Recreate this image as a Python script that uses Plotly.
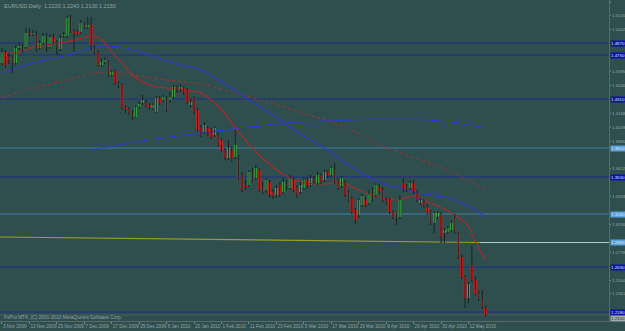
import plotly.graph_objects as go

# ---------------- data (EURUSD, Daily) ----------------
bar_idx = list(range(142))

opens = [1.4670, 1.4780, 1.4740, 1.4720, 1.4670, 1.4820, 1.4830, 1.4830, 1.4970, 1.4960,
         1.4960, 1.4820, 1.4870, 1.4940, 1.4830, 1.4930, 1.4880, 1.4810, 1.4940, 1.4940,
         1.5130, 1.4990, 1.4980, 1.4980, 1.5060, 1.5030, 1.5050, 1.4830, 1.4780, 1.4650,
         1.4680, 1.4680, 1.4550, 1.4590, 1.4470, 1.4450, 1.4230, 1.4210, 1.4170, 1.4130,
         1.4230, 1.4270, 1.4270, 1.4250, 1.4220, 1.4180, 1.4320, 1.4300, 1.4320, 1.4300,
         1.4330, 1.4430, 1.4400, 1.4420, 1.4400, 1.4250, 1.4320, 1.4200, 1.4020, 1.3980,
         1.4020, 1.4000, 1.3950, 1.3950, 1.3900, 1.3800, 1.3720, 1.3800, 1.3730, 1.3700,
         1.3550, 1.3450, 1.3450, 1.3580, 1.3520, 1.3600, 1.3450, 1.3400, 1.3480, 1.3380,
         1.3350, 1.3450, 1.3380, 1.3460, 1.3420, 1.3500, 1.3420, 1.3380, 1.3420, 1.3500,
         1.3450, 1.3510, 1.3470, 1.3540, 1.3500, 1.3580, 1.3550, 1.3600, 1.3500, 1.3440,
         1.3470, 1.3380, 1.3320, 1.3200, 1.3150, 1.3250, 1.3300, 1.3270, 1.3400, 1.3350,
         1.3430, 1.3400, 1.3300, 1.3300, 1.3180, 1.3150, 1.3130, 1.3470, 1.3430, 1.3420,
         1.3470, 1.3380, 1.3270, 1.3280, 1.3230, 1.3180, 1.3070, 1.3130, 1.3150, 1.2970,
         1.2980, 1.3000, 1.3130, 1.2960, 1.2730, 1.2530, 1.2320, 1.2640, 1.2500, 1.2360,
         1.2310, 1.2220]
highs = [1.4820, 1.4800, 1.4770, 1.4750, 1.4850, 1.4880, 1.4860, 1.5020, 1.5020, 1.5000,
         1.4990, 1.4900, 1.4970, 1.4970, 1.4960, 1.4960, 1.4900, 1.4950, 1.4980, 1.5140,
         1.5150, 1.5010, 1.5000, 1.5100, 1.5080, 1.5130, 1.5130, 1.4850, 1.4800, 1.4720,
         1.4730, 1.4700, 1.4600, 1.4610, 1.4490, 1.4470, 1.4250, 1.4230, 1.4200, 1.4250,
         1.4290, 1.4350, 1.4300, 1.4270, 1.4270, 1.4340, 1.4340, 1.4350, 1.4340, 1.4380,
         1.4450, 1.4450, 1.4460, 1.4440, 1.4420, 1.4310, 1.4340, 1.4220, 1.4050, 1.4080,
         1.4040, 1.4020, 1.4040, 1.3980, 1.3920, 1.3820, 1.3900, 1.3840, 1.4000, 1.3750,
         1.3580, 1.3500, 1.3600, 1.3620, 1.3650, 1.3620, 1.3480, 1.3520, 1.3500, 1.3410,
         1.3450, 1.3480, 1.3520, 1.3500, 1.3550, 1.3530, 1.3450, 1.3480, 1.3530, 1.3530,
         1.3550, 1.3540, 1.3580, 1.3570, 1.3610, 1.3600, 1.3640, 1.3670, 1.3520, 1.3540,
         1.3500, 1.3400, 1.3340, 1.3220, 1.3320, 1.3360, 1.3330, 1.3400, 1.3430, 1.3470,
         1.3460, 1.3430, 1.3330, 1.3320, 1.3200, 1.3170, 1.3350, 1.3520, 1.3460, 1.3500,
         1.3500, 1.3400, 1.3320, 1.3310, 1.3260, 1.3200, 1.3190, 1.3190, 1.3180, 1.3020,
         1.3040, 1.3100, 1.3160, 1.2980, 1.2750, 1.2550, 1.2480, 1.2840, 1.2540, 1.2400,
         1.2400, 1.2240]
lows = [1.4640, 1.4620, 1.4660, 1.4570, 1.4650, 1.4800, 1.4770, 1.4810, 1.4930, 1.4940,
        1.4780, 1.4800, 1.4850, 1.4780, 1.4810, 1.4860, 1.4750, 1.4790, 1.4920, 1.4920,
        1.4970, 1.4780, 1.4940, 1.4960, 1.5010, 1.5010, 1.4800, 1.4760, 1.4630, 1.4630,
        1.4660, 1.4530, 1.4530, 1.4450, 1.4420, 1.4200, 1.4170, 1.4150, 1.4100, 1.4120,
        1.4210, 1.4250, 1.4220, 1.4200, 1.4200, 1.4170, 1.4250, 1.4280, 1.4180, 1.4270,
        1.4310, 1.4370, 1.4380, 1.4350, 1.4260, 1.4230, 1.4160, 1.3980, 1.3930, 1.3960,
        1.3940, 1.3910, 1.3930, 1.3830, 1.3780, 1.3700, 1.3700, 1.3680, 1.3710, 1.3500,
        1.3380, 1.3400, 1.3430, 1.3480, 1.3500, 1.3380, 1.3360, 1.3370, 1.3320, 1.3310,
        1.3320, 1.3330, 1.3360, 1.3400, 1.3400, 1.3380, 1.3320, 1.3360, 1.3400, 1.3410,
        1.3430, 1.3460, 1.3450, 1.3460, 1.3480, 1.3520, 1.3530, 1.3460, 1.3400, 1.3420,
        1.3330, 1.3280, 1.3160, 1.3060, 1.3120, 1.3230, 1.3230, 1.3250, 1.3280, 1.3330,
        1.3360, 1.3280, 1.3250, 1.3160, 1.3110, 1.3050, 1.3110, 1.3380, 1.3380, 1.3400,
        1.3360, 1.3280, 1.3250, 1.3220, 1.3150, 1.3050, 1.2970, 1.3110, 1.2870, 1.2870,
        1.2960, 1.2980, 1.2960, 1.2710, 1.2510, 1.2220, 1.2270, 1.2480, 1.2340, 1.2290,
        1.2210, 1.2130]
closes = [1.4780, 1.4650, 1.4700, 1.4670, 1.4820, 1.4840, 1.4800, 1.4970, 1.4960, 1.4970,
          1.4810, 1.4870, 1.4940, 1.4830, 1.4930, 1.4880, 1.4830, 1.4920, 1.4950, 1.5120,
          1.4990, 1.4960, 1.4960, 1.5070, 1.5030, 1.5050, 1.4850, 1.4780, 1.4650, 1.4680,
          1.4700, 1.4550, 1.4580, 1.4470, 1.4440, 1.4230, 1.4210, 1.4170, 1.4130, 1.4230,
          1.4260, 1.4300, 1.4240, 1.4230, 1.4250, 1.4320, 1.4270, 1.4330, 1.4200, 1.4330,
          1.4430, 1.4400, 1.4430, 1.4380, 1.4280, 1.4280, 1.4180, 1.4000, 1.3950, 1.4050,
          1.3970, 1.3930, 1.4020, 1.3850, 1.3800, 1.3720, 1.3820, 1.3720, 1.3850, 1.3520,
          1.3400, 1.3430, 1.3580, 1.3500, 1.3620, 1.3400, 1.3380, 1.3500, 1.3350, 1.3340,
          1.3420, 1.3350, 1.3480, 1.3440, 1.3520, 1.3400, 1.3350, 1.3450, 1.3500, 1.3440,
          1.3520, 1.3490, 1.3550, 1.3480, 1.3580, 1.3540, 1.3620, 1.3480, 1.3420, 1.3520,
          1.3350, 1.3300, 1.3180, 1.3100, 1.3300, 1.3340, 1.3250, 1.3370, 1.3300, 1.3450,
          1.3390, 1.3300, 1.3280, 1.3180, 1.3130, 1.3120, 1.3300, 1.3400, 1.3400, 1.3470,
          1.3380, 1.3300, 1.3300, 1.3250, 1.3170, 1.3070, 1.3170, 1.3170, 1.2930, 1.3000,
          1.3020, 1.3070, 1.2980, 1.2730, 1.2530, 1.2320, 1.2460, 1.2500, 1.2360, 1.2310,
          1.2230, 1.2150]

# moving averages (bar index, price)
ma_fast_x = [0, 4, 9, 19, 26, 28, 30, 32, 35, 38, 43, 48, 53, 58, 64, 69, 75, 81, 87, 93,
             99, 104, 110, 115, 120, 125, 132, 136, 138, 141]
ma_fast_y = [1.4770, 1.4770, 1.4830, 1.4880, 1.4940, 1.4930, 1.4870, 1.4780, 1.4670, 1.4550,
             1.4450, 1.4420, 1.4400, 1.4370, 1.4200, 1.3980, 1.3750, 1.3580, 1.3480, 1.3460,
             1.3470, 1.3400, 1.3330, 1.3300, 1.3340, 1.3270, 1.3150, 1.3030, 1.2880, 1.2700]
ma_mid_x = [0, 9, 19, 26, 31, 36, 43, 50, 58, 65, 72, 80, 87, 94, 101, 110, 115, 120, 125,
            130, 134, 138, 141]
ma_mid_y = [1.4570, 1.4670, 1.4750, 1.4820, 1.4840, 1.4820, 1.4750, 1.4670, 1.4600, 1.4460,
            1.4300, 1.4130, 1.3960, 1.3820, 1.3650, 1.3480, 1.3430, 1.3380, 1.3350, 1.3320,
            1.3270, 1.3200, 1.3130]
ma_slow_x = [0, 9, 19, 27, 34, 38, 48, 58, 72, 87, 102, 110, 122, 131, 141]
ma_slow_y = [1.4320, 1.4420, 1.4500, 1.4570, 1.4570, 1.4550, 1.4500, 1.4460, 1.4330, 1.4180,
             1.4000, 1.3850, 1.3700, 1.3580, 1.3400]
ma_long_x = [26, 34, 43, 58, 72, 87, 102, 116, 131, 141]
ma_long_y = [1.3800, 1.3850, 1.3900, 1.3970, 1.4030, 1.4080, 1.4100, 1.4110, 1.4080, 1.4020]

# horizontal levels
level_prices = [1.4870, 1.4750, 1.4310, 1.3820, 1.3530, 1.3160, 1.2630, 1.2180]
level_colors = ["#1c2f8f", "#1c2f8f", "#1c2f8f", "#427fa6", "#1c2f8f", "#427fa6",
                "#1c2f8f", "#1c2f8f"]
level_label_bg = ["#0c12b0", "#0c12b0", "#0c12b0", "#5aa2dc", "#0c12b0", "#5aa2dc",
                  "#0c12b0", "#0c12b0"]
trend_label_price = 1.2880
bid_price = 1.2150
trend_x = [-0.6, 139.4]
trend_y = [1.2930, 1.2875]
ray_x = [137.0, 177.0]
ray_y = [1.2875, 1.2875]

# axis ticks (those hidden under level labels are left out)
price_ticks = [1.5280, 1.5141, 1.5002, 1.4585, 1.4446, 1.4168, 1.4029, 1.3890,
               1.3612, 1.3334, 1.3056, 1.2778, 1.2500, 1.2361]
date_ticks = [0, 8, 16, 24, 32, 40, 48, 56, 64, 72, 80, 88, 96, 104, 112, 120, 128, 136]
date_labels = ["3 Nov 2009", "13 Nov 2009", "25 Nov 2009", "7 Dec 2009", "17 Dec 2009",
               "29 Dec 2009", "8 Jan 2010", "20 Jan 2010", "1 Feb 2010", "11 Feb 2010",
               "23 Feb 2010", "5 Mar 2010", "17 Mar 2010", "29 Mar 2010", "8 Apr 2010",
               "20 Apr 2010", "30 Apr 2010", "12 May 2010"]

title_text = "EURUSD,Daily  1.2220 1.2240 1.2130 1.2150"
footer_text = "FxPro MT4, (C) 2001-2010 MetaQuotes Software Corp."

# ---------------- figure ----------------
BG = "#2f4f4f"
TXT = "#94a3a3"
FONT = "Liberation Sans"
LBL = 4.4

fig = go.Figure()

shapes = []
for p, c in zip(level_prices, level_colors):
    shapes.append(dict(type="line", xref="paper", x0=0, x1=1, yref="y", y0=p, y1=p,
                       line=dict(color=c, width=1), layer="below"))
shapes.append(dict(type="line", xref="paper", x0=0, x1=1, yref="y", y0=bid_price,
                   y1=bid_price, line=dict(color="#4a5a5a", width=1), layer="below"))

fig.add_trace(go.Scatter(x=ray_x, y=ray_y, mode="lines",
                         line=dict(color="#b0cccc", width=1), hoverinfo="skip"))
fig.add_trace(go.Scatter(x=trend_x, y=trend_y, mode="lines",
                         line=dict(color="#9c9c2c", width=1.2), hoverinfo="skip"))

fig.add_trace(go.Scatter(x=ma_long_x, y=ma_long_y, mode="lines",
                         line=dict(color="#2a3cc8", width=1, shape="spline"), hoverinfo="skip"))
fig.add_trace(go.Scatter(x=ma_slow_x, y=ma_slow_y, mode="lines",
                         line=dict(color="#a83030", width=1, shape="spline", dash="dot"),
                         hoverinfo="skip"))
fig.add_trace(go.Scatter(x=ma_mid_x, y=ma_mid_y, mode="lines",
                         line=dict(color="#2a3cc8", width=1.2, shape="spline"), hoverinfo="skip"))
fig.add_trace(go.Scatter(x=ma_fast_x, y=ma_fast_y, mode="lines",
                         line=dict(color="#b02828", width=1.1, shape="spline"), hoverinfo="skip"))

wx, wy = [], []
for i, h, l in zip(bar_idx, highs, lows):
    wx += [i, i, None]
    wy += [h, l, None]
fig.add_trace(go.Scatter(x=wx, y=wy, mode="lines", line=dict(color="#1a2222", width=1),
                         hoverinfo="skip"))

bases, heights, colors = [], [], []
for o, c in zip(opens, closes):
    lo = min(o, c)
    hgt = abs(c - o)
    if hgt < 0.0009:
        lo = (o + c) / 2 - 0.00045
        hgt = 0.0009
    bases.append(lo)
    heights.append(hgt)
    colors.append("#3cc43c" if c >= o else "#e81818")
fig.add_trace(go.Bar(x=bar_idx, y=heights, base=bases, width=0.72,
                     marker=dict(color=colors, line=dict(width=0)), hoverinfo="skip"))


def price_tag(p, bg, fg, anchor="middle"):
    return dict(xref="paper", x=1, xanchor="left", xshift=1, yref="y", y=p,
                yanchor=anchor, text=f"{p:.4f}", showarrow=False, bgcolor=bg, borderpad=0,
                font=dict(family=FONT, size=LBL, color=fg))


annotations = [price_tag(p, bg, "#d8e4f4") for p, bg in zip(level_prices, level_label_bg)]
annotations.append(price_tag(trend_label_price, "#5aa2dc", "#d8e4f4"))
annotations.append(price_tag(bid_price, "#a0a8a8", "#304040", "top"))
annotations.append(dict(xref="paper", x=0, xanchor="left", xshift=2, yref="paper", y=1,
                        yanchor="top", yshift=-1, text=title_text, showarrow=False,
                        font=dict(family=FONT, size=5.5, color=TXT)))
annotations.append(dict(xref="paper", x=0, xanchor="left", xshift=2, yref="paper", y=0,
                        yanchor="bottom", yshift=-1, text=footer_text, showarrow=False,
                        font=dict(family=FONT, size=4.8, color=TXT)))

fig.update_layout(
    width=625, height=331,
    margin=dict(l=0, r=16, t=0, b=10, autoexpand=False),
    paper_bgcolor=BG, plot_bgcolor=BG,
    showlegend=False,
    shapes=shapes,
    annotations=annotations,
    xaxis=dict(range=[-0.58, 176.97], showgrid=False, zeroline=False,
               tickvals=date_ticks, ticktext=date_labels, ticks="outside", ticklen=2,
               tickcolor="#7a8a8a", ticklabelposition="outside right", tickangle=0,
               tickfont=dict(family=FONT, size=4.6, color=TXT), automargin=False,
               showline=True, linecolor="#5a6a6a", linewidth=1, fixedrange=True),
    yaxis=dict(range=[1.2090, 1.5300], side="right", showgrid=False, zeroline=False,
               tickvals=price_ticks, ticktext=[f"{v:.4f}" for v in price_ticks],
               ticks="outside", ticklen=1, tickcolor="#7a8a8a",
               tickfont=dict(family=FONT, size=LBL, color=TXT),
               showline=True, linecolor="#5a6a6a", linewidth=1, automargin=False,
               fixedrange=True),
)

fig.write_html("out.html", config={"displayModeBar": False})
